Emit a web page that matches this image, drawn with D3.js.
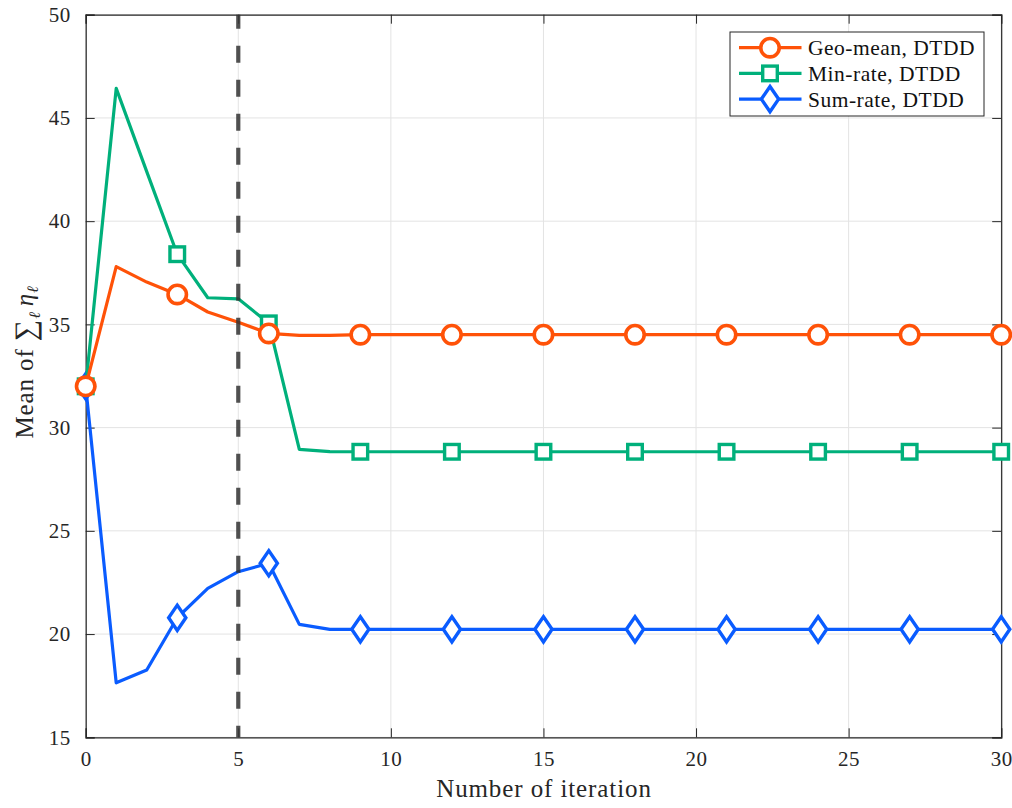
<!DOCTYPE html>
<html>
<head>
<meta charset="utf-8">
<script src="https://cdn.jsdelivr.net/npm/d3@7"></script>
<style>
  html, body { margin: 0; padding: 0; background: #fff; }
  svg { display: block; font-family: "Liberation Serif", "Times New Roman", serif; }
</style>
</head>
<body>
<svg id="chart" width="1012" height="808"></svg>
<script>
// Iteration index
const iterations = d3.range(0, 31);

// Mean of sum of eta per scheme, one value per iteration
const geoMean = [32.0, 37.8, 37.05, 36.45, 35.6, 35.1, 34.56, 34.47, 34.47, 34.5,
  34.5, 34.5, 34.5, 34.5, 34.5, 34.5, 34.5, 34.5, 34.5, 34.5,
  34.5, 34.5, 34.5, 34.5, 34.5, 34.5, 34.5, 34.5, 34.5, 34.5, 34.5];
const minRate = [32.0, 46.43, 42.4, 38.4, 36.29, 36.24, 35.05, 28.95, 28.84, 28.83,
  28.83, 28.83, 28.83, 28.83, 28.83, 28.83, 28.83, 28.83, 28.83, 28.83,
  28.83, 28.83, 28.83, 28.83, 28.83, 28.83, 28.83, 28.83, 28.83, 28.83, 28.83];
const sumRate = [32.0, 17.64, 18.26, 20.79, 22.21, 23.02, 23.43, 20.47, 20.23, 20.23,
  20.23, 20.23, 20.23, 20.23, 20.23, 20.23, 20.23, 20.23, 20.23, 20.23,
  20.23, 20.23, 20.23, 20.23, 20.23, 20.23, 20.23, 20.23, 20.23, 20.23, 20.23];

const seriesNames = ["Geo-mean, DTDD", "Min-rate, DTDD", "Sum-rate, DTDD"];
const seriesColors = ["#ff5208", "#00b07b", "#0a5cff"];
const seriesMarkers = ["circle", "square", "diamond"];

const xTicks = [0, 5, 10, 15, 20, 25, 30];
const yTicks = [15, 20, 25, 30, 35, 40, 45, 50];
const markerStep = 3;
const splitIteration = 5;

const svg = d3.select("#chart");
const plotLeft = 85.7, plotRight = 1001.2, plotTop = 14.7, plotBottom = 737.3;

const x = d3.scaleLinear().domain([0, 30]).range([plotLeft, plotRight]);
const y = d3.scaleLinear().domain([15, 50]).range([plotBottom, plotTop]);

// grid
const grid = svg.append("g");
grid.selectAll("line.gx").data(xTicks).join("line")
  .attr("x1", d => x(d)).attr("x2", d => x(d))
  .attr("y1", plotTop).attr("y2", plotBottom)
  .attr("stroke", "#e3e3e3").attr("stroke-width", 1);
grid.selectAll("line.gy").data(yTicks).join("line")
  .attr("x1", plotLeft).attr("x2", plotRight)
  .attr("y1", d => y(d)).attr("y2", d => y(d))
  .attr("stroke", "#e3e3e3").attr("stroke-width", 1);

// axes (ticks pointing inward, box on)
const axisColor = "#262626";
const tickLen = 9;
const gx = svg.append("g").attr("transform", `translate(0,${plotBottom})`)
  .call(d3.axisBottom(x).tickValues(xTicks).tickSize(-tickLen).tickPadding(14).tickFormat(d3.format("d")));
const gxTop = svg.append("g").attr("transform", `translate(0,${plotTop})`)
  .call(d3.axisTop(x).tickValues(xTicks).tickSize(-tickLen).tickFormat(""));
const gy = svg.append("g").attr("transform", `translate(${plotLeft},0)`)
  .call(d3.axisLeft(y).tickValues(yTicks).tickSize(-tickLen).tickPadding(15).tickFormat(d3.format("d")));
const gyRight = svg.append("g").attr("transform", `translate(${plotRight},0)`)
  .call(d3.axisRight(y).tickValues(yTicks).tickSize(-tickLen).tickFormat(""));

[gx, gxTop, gy, gyRight].forEach(g => {
  g.select(".domain").attr("stroke", axisColor).attr("stroke-width", 1.2);
  g.selectAll(".tick line").attr("stroke", axisColor).attr("stroke-width", 1);
  g.selectAll(".tick text")
    .attr("fill", "#262626")
    .style("font-family", "Liberation Serif, serif")
    .style("font-size", "21px")
    .style("letter-spacing", "0.5px");
});

// marker shapes
function drawMarker(g, type, cx, cy, color) {
  if (type === "circle") {
    g.append("circle").attr("cx", cx).attr("cy", cy).attr("r", 9.2)
      .attr("fill", "#fff").attr("stroke", color).attr("stroke-width", 3.6);
  } else if (type === "square") {
    g.append("rect").attr("x", cx - 7.3).attr("y", cy - 7.3)
      .attr("width", 14.6).attr("height", 14.6)
      .attr("fill", "#fff").attr("stroke", color).attr("stroke-width", 3.4);
  } else {
    const hw = 8.6, hh = 12.6;
    g.append("path")
      .attr("d", `M${cx},${cy - hh}L${cx + hw},${cy}L${cx},${cy + hh}L${cx - hw},${cy}Z`)
      .attr("fill", "#fff").attr("stroke", color).attr("stroke-width", 3.4)
      .attr("stroke-linejoin", "miter");
  }
}

const allSeries = [geoMean, minRate, sumRate];
const line = d3.line().x((d, i) => x(iterations[i])).y(d => y(d));

// draw sum-rate first, geo-mean last so it sits on top
[2, 1, 0].forEach(k => {
  const g = svg.append("g");
  g.append("path").datum(allSeries[k])
    .attr("d", line)
    .attr("fill", "none")
    .attr("stroke", seriesColors[k])
    .attr("stroke-width", 3.2)
    .attr("stroke-linejoin", "round");
  allSeries[k].forEach((v, i) => {
    if (iterations[i] % markerStep === 0) {
      drawMarker(g, seriesMarkers[k], x(iterations[i]), y(v), seriesColors[k]);
    }
  });
});

// vertical dashed marker at the split iteration
svg.append("line")
  .attr("x1", x(splitIteration)).attr("x2", x(splitIteration))
  .attr("y1", plotTop).attr("y2", plotBottom)
  .attr("stroke", "#333").attr("stroke-opacity", 0.85)
  .attr("stroke-width", 4.2)
  .attr("stroke-dasharray", "17,17")
  .attr("stroke-dashoffset", 3);

// axis labels
svg.append("text")
  .attr("x", 544).attr("y", 797)
  .attr("text-anchor", "middle")
  .attr("fill", "#262626")
  .style("font-size", "25px")
  .style("letter-spacing", "0.9px")
  .text("Number of iteration");

const yl = svg.append("text")
  .attr("transform", `translate(33,${362}) rotate(-90)`)
  .attr("text-anchor", "middle")
  .attr("fill", "#262626")
  .style("font-size", "25px")
  .style("letter-spacing", "0.9px");
yl.append("tspan").text("Mean of ");
yl.append("tspan").style("font-size", "30px").attr("dy", 2).text("\u2211");
yl.append("tspan").style("font-size", "16px").style("font-style", "italic").attr("dy", 5).text("\u2113");
yl.append("tspan").style("font-style", "italic").attr("dy", -7).attr("dx", 5).text("\u03b7");
yl.append("tspan").style("font-size", "16px").style("font-style", "italic").attr("dy", 5).text("\u2113");

// legend
const lg = svg.append("g");
lg.append("rect")
  .attr("x", 730).attr("y", 32).attr("width", 254).attr("height", 84)
  .attr("fill", "#fff").attr("stroke", "#262626").attr("stroke-width", 1);
seriesNames.forEach((name, k) => {
  const ry = 47.7 + k * 25.7;
  lg.append("line").attr("x1", 739).attr("x2", 801.5)
    .attr("y1", ry).attr("y2", ry)
    .attr("stroke", seriesColors[k]).attr("stroke-width", 3.2);
  drawMarker(lg, seriesMarkers[k], 770, ry, seriesColors[k]);
  lg.append("text").attr("x", 808).attr("y", ry + 7.5)
    .attr("fill", "#111")
    .style("font-size", "21.5px")
    .style("letter-spacing", "0.5px")
    .text(name);
});
</script>
</body>
</html>
